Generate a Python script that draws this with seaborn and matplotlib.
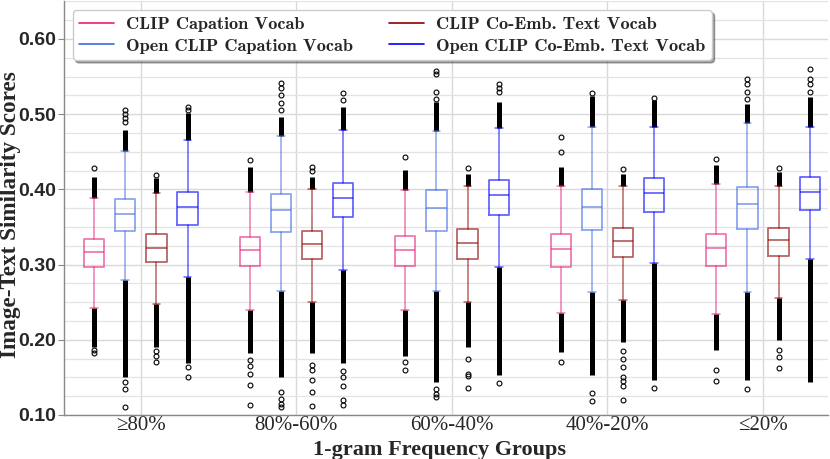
import numpy as np
import matplotlib
matplotlib.use("Agg")
import matplotlib.pyplot as plt
import matplotlib.ticker as mticker
from matplotlib.lines import Line2D
from matplotlib.colors import to_rgba
import seaborn as sns

sns.set_style("whitegrid")

groups = ["≥80%", "80%-60%", "60%-40%", "40%-20%", "≤20%"]
series = ["CLIP Capation Vocab", "Open CLIP Capation Vocab",
          "CLIP Co-Emb. Text Vocab", "Open CLIP Co-Emb. Text Vocab"]
colors = ["#e6207e", "#4169e1", "#8b0000", "#0000ff"]

# CLIP Capation Vocab
cap_q1 = [0.297, 0.298, 0.298, 0.297, 0.298]
cap_med = [0.317, 0.319, 0.320, 0.321, 0.322]
cap_q3 = [0.334, 0.337, 0.338, 0.340, 0.341]
cap_lo = [0.242, 0.240, 0.239, 0.235, 0.234]
cap_hi = [0.389, 0.396, 0.399, 0.404, 0.407]
cap_dense_lo = [0.191, 0.182, 0.178, 0.184, 0.186]
cap_dense_hi = [0.417, 0.430, 0.426, 0.430, 0.433]
cap_fliers = [[0.428, 0.186, 0.183],
              [0.439, 0.173, 0.165, 0.155, 0.140, 0.113],
              [0.4425, 0.170, 0.160],
              [0.470, 0.450, 0.170],
              [0.440, 0.160, 0.145]]

# Open CLIP Capation Vocab
ocap_q1 = [0.344, 0.343, 0.3445, 0.346, 0.347]
ocap_med = [0.367, 0.372, 0.375, 0.377, 0.380]
ocap_q3 = [0.387, 0.394, 0.399, 0.401, 0.4035]
ocap_lo = [0.279, 0.265, 0.265, 0.264, 0.264]
ocap_hi = [0.451, 0.471, 0.478, 0.483, 0.4885]
ocap_dense_lo = [0.150, 0.151, 0.144, 0.153, 0.1465]
ocap_dense_hi = [0.479, 0.4965, 0.516, 0.524, 0.514]
ocap_fliers = [[0.505, 0.500, 0.495, 0.490, 0.144, 0.134, 0.110],
               [0.542, 0.535, 0.525, 0.515, 0.505, 0.131, 0.121, 0.115, 0.110],
               [0.558, 0.554, 0.530, 0.520, 0.135, 0.128, 0.124],
               [0.5275, 0.129, 0.118],
               [0.5465, 0.540, 0.530, 0.520, 0.134]]

# CLIP Co-Emb. Text Vocab
emb_q1 = [0.303, 0.307, 0.307, 0.3095, 0.311]
emb_med = [0.322, 0.327, 0.329, 0.331, 0.332]
emb_q3 = [0.340, 0.3445, 0.3467, 0.348, 0.349]
emb_lo = [0.248, 0.250, 0.250, 0.253, 0.255]
emb_hi = [0.395, 0.401, 0.404, 0.404, 0.404]
emb_dense_lo = [0.191, 0.182, 0.191, 0.1975, 0.1997]
emb_dense_hi = [0.415, 0.4167, 0.421, 0.421, 0.4234]
emb_fliers = [[0.419, 0.185, 0.178, 0.171],
              [0.430, 0.425, 0.166, 0.160, 0.147, 0.130, 0.112],
              [0.429, 0.175, 0.155, 0.152, 0.136],
              [0.4265, 0.185, 0.175, 0.164, 0.151, 0.145, 0.138, 0.120],
              [0.428, 0.186, 0.177, 0.163]]

# Open CLIP Co-Emb. Text Vocab
oemb_q1 = [0.352, 0.363, 0.366, 0.370, 0.372]
oemb_med = [0.376, 0.388, 0.393, 0.3955, 0.397]
oemb_q3 = [0.397, 0.409, 0.413, 0.415, 0.417]
oemb_lo = [0.283, 0.293, 0.297, 0.3025, 0.307]
oemb_hi = [0.4655, 0.479, 0.482, 0.483, 0.483]
oemb_dense_lo = [0.169, 0.169, 0.153, 0.1465, 0.1443]
oemb_dense_hi = [0.501, 0.510, 0.5166, 0.519, 0.523]
oemb_fliers = [[0.509, 0.505, 0.164, 0.151],
               [0.528, 0.519, 0.158, 0.150, 0.138, 0.120, 0.113],
               [0.5395, 0.535, 0.530, 0.143],
               [0.5217, 0.136],
               [0.560, 0.547, 0.540, 0.530]]

all_q1 = [cap_q1, ocap_q1, emb_q1, oemb_q1]
all_med = [cap_med, ocap_med, emb_med, oemb_med]
all_q3 = [cap_q3, ocap_q3, emb_q3, oemb_q3]
all_lo = [cap_lo, ocap_lo, emb_lo, oemb_lo]
all_hi = [cap_hi, ocap_hi, emb_hi, oemb_hi]
all_dlo = [cap_dense_lo, ocap_dense_lo, emb_dense_lo, oemb_dense_lo]
all_dhi = [cap_dense_hi, ocap_dense_hi, emb_dense_hi, oemb_dense_hi]
all_fliers = [cap_fliers, ocap_fliers, emb_fliers, oemb_fliers]

fig, ax = plt.subplots(figsize=(8.3, 4.59), dpi=100)
fig.subplots_adjust(left=0.077, right=0.998, bottom=0.096, top=0.997)

offsets = [-0.3, -0.1, 0.1, 0.3]
x = np.arange(len(groups))
for i in range(len(series)):
    stats = []
    for g in range(len(groups)):
        stats.append(dict(med=all_med[i][g], q1=all_q1[i][g], q3=all_q3[i][g],
                          whislo=all_lo[i][g], whishi=all_hi[i][g],
                          fliers=all_fliers[i][g]))
    c = to_rgba(colors[i], 0.6)
    pos = x + offsets[i]
    ax.bxp(stats, positions=pos, widths=0.13, capwidths=0.05,
           boxprops=dict(color=c, lw=1.3),
           medianprops=dict(color=c, lw=1.3),
           whiskerprops=dict(color=c, lw=1.1),
           capprops=dict(color=c, lw=1.1, zorder=4),
           flierprops=dict(marker="o", markersize=3.5, markerfacecolor="none",
                           markeredgecolor="black", markeredgewidth=0.8))
    # dense runs of outliers just past the whiskers
    ax.vlines(pos, all_hi[i], all_dhi[i], color="black", lw=3.6, zorder=3)
    ax.vlines(pos, all_dlo[i], all_lo[i], color="black", lw=3.6, zorder=3)

ax.set_xlim(-0.495, 4.42)
ax.set_ylim(0.10, 0.65)
ax.set_xticks(x)
ax.set_xticklabels(groups, family="Liberation Serif", fontsize=15)
ax.yaxis.set_major_locator(mticker.MultipleLocator(0.1))
ax.yaxis.set_minor_locator(mticker.MultipleLocator(0.025))
ax.yaxis.set_major_formatter(mticker.FormatStrFormatter("%.2f"))
for t in ax.get_yticklabels():
    t.set_family("Liberation Sans")
    t.set_fontweight("bold")
    t.set_fontsize(14)
ax.grid(which="major", axis="both", color="#d9d9d9", lw=1.0)
ax.grid(which="minor", axis="y", color="#e3e3e3", lw=0.9)
ax.tick_params(axis="y", which="major", length=4, color="#888888", left=True, pad=1.5)
ax.tick_params(axis="x", which="major", length=0, pad=1)
ax.tick_params(axis="y", which="minor", length=0)
for s in ["top", "right"]:
    ax.spines[s].set_visible(False)
for s in ["left", "bottom"]:
    ax.spines[s].set_color("#888888")
    ax.spines[s].set_linewidth(1.0)

ax.set_ylabel("Image-Text Similarity Scores", family="Liberation Serif",
              fontweight="bold", fontsize=16.7)
ax.yaxis.set_label_coords(-0.0563, 0.4836)
ax.set_xlabel("1-gram Frequency Groups", family="Liberation Serif",
              fontweight="bold", fontsize=16)
ax.xaxis.set_label_coords(0.491, -0.061)

handles = [Line2D([0], [0], color=c, lw=1.2) for c in colors]
ax.legend(handles, series, loc="upper left", bbox_to_anchor=(0.0115, 0.979),
          borderaxespad=0, ncol=2, shadow=True, fancybox=True, framealpha=1,
          prop=dict(family="cmb10", size=13.2), handlelength=1.9,
          handletextpad=0.67, columnspacing=1.95, borderpad=0.35, labelspacing=0.3)

fig.savefig("out.png", dpi=100)
